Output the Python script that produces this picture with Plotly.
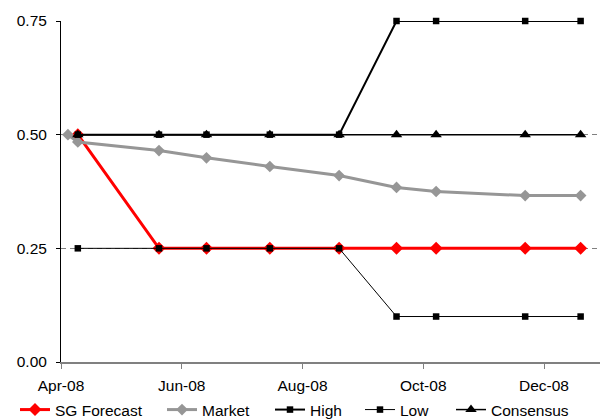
import pandas as pd
import plotly.graph_objects as go

# Meeting dates and rate paths (%)
dates = ["2008-04-09", "2008-05-20", "2008-06-13", "2008-07-15", "2008-08-19",
         "2008-09-17", "2008-10-07", "2008-11-21", "2008-12-19"]
market_dates = ["2008-04-04"] + dates

sg_forecast = [0.50, 0.25, 0.25, 0.25, 0.25, 0.25, 0.25, 0.25, 0.25]
market = [0.50, 0.484, 0.465, 0.449, 0.430, 0.410, 0.384, 0.375, 0.366, 0.366]
high = [0.50, 0.50, 0.50, 0.50, 0.50, 0.75, 0.75, 0.75, 0.75]
low = [0.25, 0.25, 0.25, 0.25, 0.25, 0.10, 0.10, 0.10, 0.10]
consensus = [0.50, 0.50, 0.50, 0.50, 0.50, 0.50, 0.50, 0.50, 0.50]

y_ticks = [0.00, 0.25, 0.50, 0.75]


def mid_day(ds):
    # points sit in the middle of their day on the date axis
    return pd.to_datetime(ds) + pd.Timedelta(hours=12)


FONT = "Arial, Liberation Sans, sans-serif"
FONT_SIZE = 15.5

# (name, x, y, line, marker, legend id, legend left edge in px)
series = [
    ("SG Forecast", dates, sg_forecast, dict(color="#FF0000", width=3),
     dict(symbol="diamond", size=10, color="#FF0000"), "legend", 15),
    ("Market", market_dates, market, dict(color="#969696", width=3),
     dict(symbol="diamond", size=9, color="#969696"), "legend2", 162),
    ("High", dates, high, dict(color="#000000", width=2),
     dict(symbol="square", size=6.5, color="#000000"), "legend3", 270),
    ("Low", dates, low, dict(color="#000000", width=1),
     dict(symbol="square", size=6.5, color="#000000"), "legend4", 360),
    ("Consensus", dates, consensus, dict(color="#000000", width=1.5),
     dict(symbol="triangle-up", size=10, color="#000000"), "legend5", 451),
]

W, H = 600, 419

fig = go.Figure()
legends = {}
for name, xs, ys, line, marker, leg, left_px in series:
    fig.add_trace(go.Scatter(
        x=mid_day(xs), y=ys, name=name, mode="lines+markers",
        line=line, marker=marker, cliponaxis=False, legend=leg))
    legends[leg] = dict(
        orientation="h", xref="container", yref="container",
        x=left_px / W, xanchor="left", y=1 - 410 / H, yanchor="middle",
        font=dict(family=FONT, size=FONT_SIZE, color="#000000"),
        bgcolor="rgba(0,0,0,0)", borderwidth=0, itemwidth=30)

fig.update_layout(
    width=W, height=H,
    margin=dict(l=61, r=0, t=21, b=57, pad=0, autoexpand=False),
    paper_bgcolor="white", plot_bgcolor="white",
    font=dict(family=FONT, size=FONT_SIZE, color="#000000"),
    showlegend=True,
    **legends,
)

fig.update_xaxes(
    type="date", range=["2008-04-01", "2008-12-29 07:00"],
    tick0="2008-04-01", dtick="M2", tickformat="%b-%y",
    showgrid=False, zeroline=False,
    showline=True, linecolor="#808080", linewidth=1.5,
    ticks="outside", ticklen=5, tickcolor="#808080", tickwidth=1,
    tickfont=dict(family=FONT, size=FONT_SIZE, color="#000000"),
    ticklabelstandoff=4,
)

fig.update_yaxes(
    range=[0, 0.75], tickvals=y_ticks, tickformat=".2f",
    showgrid=True, gridcolor="#808080", gridwidth=1, griddash="5px,4px",
    zeroline=False,
    showline=True, linecolor="#000000", linewidth=1,
    ticks="outside", ticklen=4, tickcolor="#000000", tickwidth=1,
    tickfont=dict(family=FONT, size=FONT_SIZE, color="#000000"),
    ticklabelstandoff=6,
)

fig.write_html("out.html")
